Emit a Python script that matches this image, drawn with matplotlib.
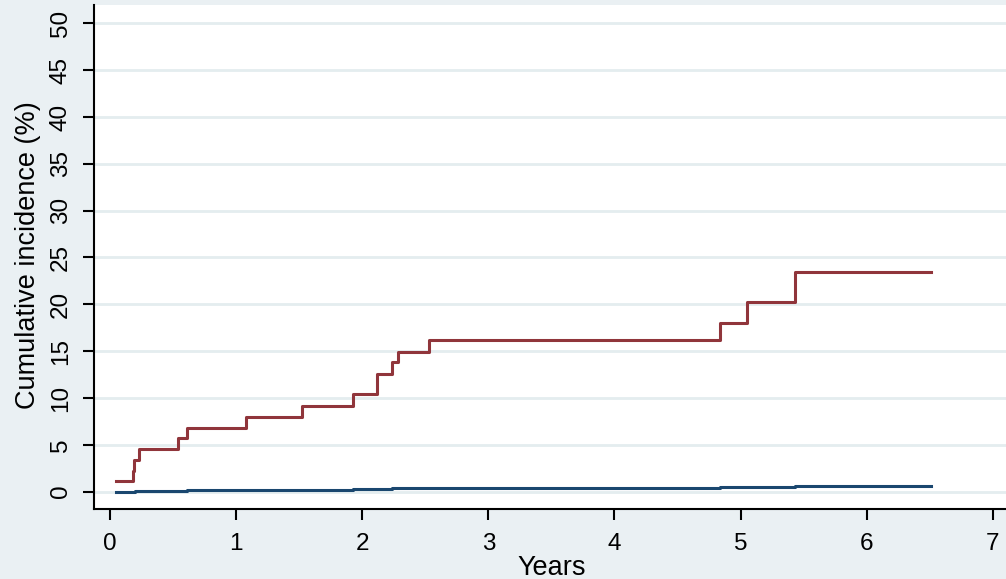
import numpy as np
import matplotlib
matplotlib.use("Agg")
import matplotlib.pyplot as plt

# --- data (years, cumulative incidence %) ---
red_t = [0.05, 0.18, 0.19, 0.23, 0.54, 0.61, 1.08, 1.52, 1.93, 2.12, 2.24, 2.28, 2.53, 4.84, 5.05, 5.43, 6.51]
red_y = [1.1, 2.2, 3.4, 4.55, 5.7, 6.85, 8.0, 9.15, 10.4, 12.6, 13.8, 14.95, 16.15, 18.0, 20.3, 23.4, 23.4]

blue_t = [0.05, 0.20, 0.61, 1.93, 2.24, 4.84, 5.05, 5.43, 6.51]
blue_y = [0.0, 0.07, 0.17, 0.28, 0.38, 0.45, 0.55, 0.65, 0.65]

x_ticks = [0, 1, 2, 3, 4, 5, 6, 7]
y_ticks = [0, 5, 10, 15, 20, 25, 30, 35, 40, 45, 50]

BG = "#EAF0F3"
GRID = "#E4EDEF"
RED = "#90353B"
NAVY = "#1A476F"

plt.rcParams["font.family"] = ["Liberation Sans", "DejaVu Sans"]

W, H = 1006, 579
fig = plt.figure(figsize=(W / 100, H / 100), dpi=100, facecolor=BG)
ax = fig.add_axes([94 / W, (H - 509) / H, (W - 94) / W, (509 - 5.5) / H])
ax.set_facecolor("white")

ax.step(red_t, red_y, where="post", color=RED, lw=2.2, zorder=3)
ax.step(blue_t, blue_y, where="post", color=NAVY, lw=2.2, zorder=3)

ax.set_xlim(-0.127, 7.105)
ax.set_ylim(-1.85, 51.9)
ax.set_xticks(x_ticks)
ax.set_yticks(y_ticks)
ax.set_yticklabels([str(v) for v in y_ticks], rotation=90, va="center")

ax.yaxis.grid(True, color=GRID, lw=2.0)
ax.set_axisbelow(True)

for s in ["top", "right"]:
    ax.spines[s].set_visible(False)
for s in ["left", "bottom"]:
    ax.spines[s].set_linewidth(1.5)
    ax.spines[s].set_color("black")

ax.tick_params(axis="both", length=8, width=1.5, labelsize=17.5, color="black")
ax.tick_params(axis="y", pad=8)
ax.tick_params(axis="x", pad=9)

ax.set_xlabel("Years", fontsize=19.5)
ax.set_ylabel("Cumulative incidence (%)", fontsize=19.5)
ax.xaxis.set_label_coords(552 / W, 1 - 555 / H, transform=fig.transFigure)
ax.yaxis.set_label_coords(41 / W, 1 - 255 / H, transform=fig.transFigure)

fig.savefig("out.png", dpi=100, facecolor=BG)
